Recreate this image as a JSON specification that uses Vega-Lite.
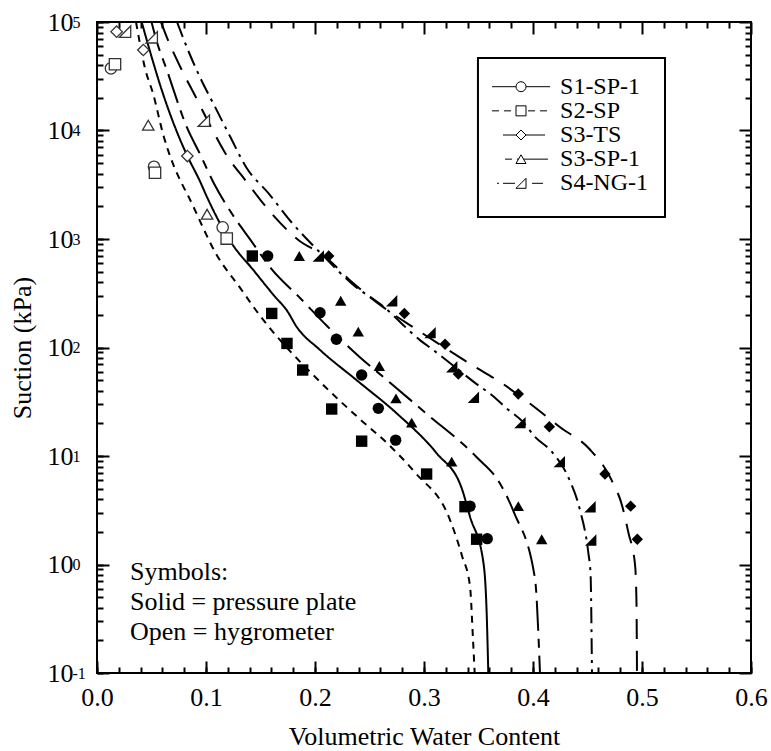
{
  "$schema": "https://vega.github.io/schema/vega-lite/v6.json",
  "width": 654,
  "height": 651,
  "autosize": {"type": "none"},
  "padding": {"left": 97, "top": 22, "right": 20, "bottom": 78},
  "background": "white",
  "datasets": {
    "legendrows": [
      {"series": "S1-SP-1"}, {"series": "S2-SP"}, {"series": "S3-TS"}, {"series": "S3-SP-1"}, {"series": "S4-NG-1"}
    ],
    "curves": [
      {"series": "S1-SP-1", "wc": 0.041, "suction": 100000},
      {"series": "S1-SP-1", "wc": 0.0486, "suction": 53700},
      {"series": "S1-SP-1", "wc": 0.0608, "suction": 21400},
      {"series": "S1-SP-1", "wc": 0.0731, "suction": 9830},
      {"series": "S1-SP-1", "wc": 0.0823, "suction": 5990},
      {"series": "S1-SP-1", "wc": 0.0945, "suction": 3400},
      {"series": "S1-SP-1", "wc": 0.1006, "suction": 2475},
      {"series": "S1-SP-1", "wc": 0.1236, "suction": 912},
      {"series": "S1-SP-1", "wc": 0.1434, "suction": 518},
      {"series": "S1-SP-1", "wc": 0.1633, "suction": 294},
      {"series": "S1-SP-1", "wc": 0.174, "suction": 221},
      {"series": "S1-SP-1", "wc": 0.1832, "suction": 155},
      {"series": "S1-SP-1", "wc": 0.2046, "suction": 95},
      {"series": "S1-SP-1", "wc": 0.2382, "suction": 50},
      {"series": "S1-SP-1", "wc": 0.275, "suction": 24.7},
      {"series": "S1-SP-1", "wc": 0.3116, "suction": 10.6},
      {"series": "S1-SP-1", "wc": 0.3346, "suction": 5.04},
      {"series": "S1-SP-1", "wc": 0.3422, "suction": 2.76},
      {"series": "S1-SP-1", "wc": 0.3544, "suction": 1.06},
      {"series": "S1-SP-1", "wc": 0.3575, "suction": 0.355},
      {"series": "S1-SP-1", "wc": 0.359, "suction": 0.1},
      {"series": "S2-SP", "wc": 0.0358, "suction": 100000},
      {"series": "S2-SP", "wc": 0.044, "suction": 37700},
      {"series": "S2-SP", "wc": 0.0517, "suction": 21400},
      {"series": "S2-SP", "wc": 0.0608, "suction": 9140},
      {"series": "S2-SP", "wc": 0.07, "suction": 4840},
      {"series": "S2-SP", "wc": 0.0777, "suction": 3260},
      {"series": "S2-SP", "wc": 0.0838, "suction": 2475},
      {"series": "S2-SP", "wc": 0.1098, "suction": 713},
      {"series": "S2-SP", "wc": 0.1327, "suction": 339},
      {"series": "S2-SP", "wc": 0.1434, "suction": 238},
      {"series": "S2-SP", "wc": 0.2092, "suction": 43.5},
      {"series": "S2-SP", "wc": 0.2405, "suction": 22.2},
      {"series": "S2-SP", "wc": 0.268, "suction": 12.6},
      {"series": "S2-SP", "wc": 0.2917, "suction": 7.05},
      {"series": "S2-SP", "wc": 0.3239, "suction": 2.57},
      {"series": "S2-SP", "wc": 0.3349, "suction": 1.2},
      {"series": "S2-SP", "wc": 0.3422, "suction": 0.63},
      {"series": "S2-SP", "wc": 0.345, "suction": 0.2},
      {"series": "S2-SP", "wc": 0.3465, "suction": 0.1},
      {"series": "S3-SP-1", "wc": 0.05, "suction": 100000},
      {"series": "S3-SP-1", "wc": 0.0547, "suction": 66800},
      {"series": "S3-SP-1", "wc": 0.0639, "suction": 36500},
      {"series": "S3-SP-1", "wc": 0.0823, "suction": 10800},
      {"series": "S3-SP-1", "wc": 0.0945, "suction": 6070},
      {"series": "S3-SP-1", "wc": 0.1073, "suction": 3250},
      {"series": "S3-SP-1", "wc": 0.1225, "suction": 1790},
      {"series": "S3-SP-1", "wc": 0.1408, "suction": 980},
      {"series": "S3-SP-1", "wc": 0.16, "suction": 530},
      {"series": "S3-SP-1", "wc": 0.1867, "suction": 283},
      {"series": "S3-SP-1", "wc": 0.2115, "suction": 156},
      {"series": "S3-SP-1", "wc": 0.2404, "suction": 82.6},
      {"series": "S3-SP-1", "wc": 0.2665, "suction": 49.7},
      {"series": "S3-SP-1", "wc": 0.3009, "suction": 25.2},
      {"series": "S3-SP-1", "wc": 0.3477, "suction": 9.9},
      {"series": "S3-SP-1", "wc": 0.3697, "suction": 5.58},
      {"series": "S3-SP-1", "wc": 0.3826, "suction": 3.01},
      {"series": "S3-SP-1", "wc": 0.4018, "suction": 0.743},
      {"series": "S3-SP-1", "wc": 0.4064, "suction": 0.1},
      {"series": "S3-TS", "wc": 0.0587, "suction": 100000},
      {"series": "S3-TS", "wc": 0.064, "suction": 72700},
      {"series": "S3-TS", "wc": 0.0761, "suction": 39100},
      {"series": "S3-TS", "wc": 0.0899, "suction": 21000},
      {"series": "S3-TS", "wc": 0.1043, "suction": 10900},
      {"series": "S3-TS", "wc": 0.118, "suction": 6110},
      {"series": "S3-TS", "wc": 0.1369, "suction": 3400},
      {"series": "S3-TS", "wc": 0.1587, "suction": 1790},
      {"series": "S3-TS", "wc": 0.1847, "suction": 980},
      {"series": "S3-TS", "wc": 0.2073, "suction": 710},
      {"series": "S3-TS", "wc": 0.2352, "suction": 391},
      {"series": "S3-TS", "wc": 0.2619, "suction": 238},
      {"series": "S3-TS", "wc": 0.2917, "suction": 150},
      {"series": "S3-TS", "wc": 0.3453, "suction": 67.8},
      {"series": "S3-TS", "wc": 0.3713, "suction": 47},
      {"series": "S3-TS", "wc": 0.3977, "suction": 30.1},
      {"series": "S3-TS", "wc": 0.4252, "suction": 18.3},
      {"series": "S3-TS", "wc": 0.4518, "suction": 11.6},
      {"series": "S3-TS", "wc": 0.472, "suction": 6.02},
      {"series": "S3-TS", "wc": 0.4817, "suction": 3.5},
      {"series": "S3-TS", "wc": 0.4876, "suction": 1.95},
      {"series": "S3-TS", "wc": 0.4936, "suction": 1.0},
      {"series": "S3-TS", "wc": 0.4949, "suction": 0.47},
      {"series": "S3-TS", "wc": 0.4954, "suction": 0.1},
      {"series": "S4-NG-1", "wc": 0.0734, "suction": 100000},
      {"series": "S4-NG-1", "wc": 0.0846, "suction": 51800},
      {"series": "S4-NG-1", "wc": 0.0952, "suction": 29900},
      {"series": "S4-NG-1", "wc": 0.1083, "suction": 16500},
      {"series": "S4-NG-1", "wc": 0.122, "suction": 8850},
      {"series": "S4-NG-1", "wc": 0.1373, "suction": 4510},
      {"series": "S4-NG-1", "wc": 0.1572, "suction": 2650},
      {"series": "S4-NG-1", "wc": 0.1786, "suction": 1420},
      {"series": "S4-NG-1", "wc": 0.2061, "suction": 725},
      {"series": "S4-NG-1", "wc": 0.2344, "suction": 383},
      {"series": "S4-NG-1", "wc": 0.2619, "suction": 242},
      {"series": "S4-NG-1", "wc": 0.2963, "suction": 117},
      {"series": "S4-NG-1", "wc": 0.3083, "suction": 95},
      {"series": "S4-NG-1", "wc": 0.3223, "suction": 74},
      {"series": "S4-NG-1", "wc": 0.3483, "suction": 46},
      {"series": "S4-NG-1", "wc": 0.3621, "suction": 36.5},
      {"series": "S4-NG-1", "wc": 0.3758, "suction": 27.5},
      {"series": "S4-NG-1", "wc": 0.3904, "suction": 20.8},
      {"series": "S4-NG-1", "wc": 0.4018, "suction": 15},
      {"series": "S4-NG-1", "wc": 0.4174, "suction": 10.9},
      {"series": "S4-NG-1", "wc": 0.4339, "suction": 5.89},
      {"series": "S4-NG-1", "wc": 0.4431, "suction": 3.18},
      {"series": "S4-NG-1", "wc": 0.4508, "suction": 1.27},
      {"series": "S4-NG-1", "wc": 0.4528, "suction": 0.826},
      {"series": "S4-NG-1", "wc": 0.4541, "suction": 0.1}
    ],
    "points": [
      {"series": "S1-SP-1", "method": "Open", "wc": 0.0128, "suction": 37400},
      {"series": "S1-SP-1", "method": "Open", "wc": 0.0523, "suction": 4630},
      {"series": "S1-SP-1", "method": "Open", "wc": 0.1153, "suction": 1280},
      {"series": "S1-SP-1", "method": "Solid", "wc": 0.1566, "suction": 697},
      {"series": "S1-SP-1", "method": "Solid", "wc": 0.2046, "suction": 209},
      {"series": "S1-SP-1", "method": "Solid", "wc": 0.2196, "suction": 119},
      {"series": "S1-SP-1", "method": "Solid", "wc": 0.2428, "suction": 55.8},
      {"series": "S1-SP-1", "method": "Solid", "wc": 0.2581, "suction": 27.5},
      {"series": "S1-SP-1", "method": "Solid", "wc": 0.274, "suction": 14},
      {"series": "S1-SP-1", "method": "Solid", "wc": 0.3422, "suction": 3.45},
      {"series": "S1-SP-1", "method": "Solid", "wc": 0.358, "suction": 1.73},
      {"series": "S2-SP", "method": "Open", "wc": 0.0165, "suction": 40800},
      {"series": "S2-SP", "method": "Open", "wc": 0.0532, "suction": 4080},
      {"series": "S2-SP", "method": "Open", "wc": 0.119, "suction": 1010},
      {"series": "S2-SP", "method": "Solid", "wc": 0.1425, "suction": 697},
      {"series": "S2-SP", "method": "Solid", "wc": 0.1603, "suction": 206},
      {"series": "S2-SP", "method": "Solid", "wc": 0.1743, "suction": 109},
      {"series": "S2-SP", "method": "Solid", "wc": 0.1887, "suction": 62},
      {"series": "S2-SP", "method": "Solid", "wc": 0.2153, "suction": 27.1},
      {"series": "S2-SP", "method": "Solid", "wc": 0.2428, "suction": 13.7},
      {"series": "S2-SP", "method": "Solid", "wc": 0.3024, "suction": 6.82},
      {"series": "S2-SP", "method": "Solid", "wc": 0.3376, "suction": 3.41},
      {"series": "S2-SP", "method": "Solid", "wc": 0.3483, "suction": 1.71},
      {"series": "S3-TS", "method": "Open", "wc": 0.018, "suction": 81500},
      {"series": "S3-TS", "method": "Open", "wc": 0.0425, "suction": 55200},
      {"series": "S3-TS", "method": "Open", "wc": 0.0829, "suction": 5820},
      {"series": "S3-TS", "method": "Solid", "wc": 0.2126, "suction": 697},
      {"series": "S3-TS", "method": "Solid", "wc": 0.282, "suction": 206},
      {"series": "S3-TS", "method": "Solid", "wc": 0.3193, "suction": 107},
      {"series": "S3-TS", "method": "Solid", "wc": 0.3315, "suction": 57},
      {"series": "S3-TS", "method": "Solid", "wc": 0.3865, "suction": 37.3},
      {"series": "S3-TS", "method": "Solid", "wc": 0.415, "suction": 18.6},
      {"series": "S3-TS", "method": "Solid", "wc": 0.466, "suction": 6.82},
      {"series": "S3-TS", "method": "Solid", "wc": 0.4896, "suction": 3.45},
      {"series": "S3-TS", "method": "Solid", "wc": 0.4957, "suction": 1.71},
      {"series": "S3-SP-1", "method": "Open", "wc": 0.047, "suction": 11200},
      {"series": "S3-SP-1", "method": "Open", "wc": 0.101, "suction": 1690},
      {"series": "S3-SP-1", "method": "Solid", "wc": 0.1856, "suction": 697},
      {"series": "S3-SP-1", "method": "Solid", "wc": 0.2236, "suction": 270},
      {"series": "S3-SP-1", "method": "Solid", "wc": 0.2397, "suction": 140},
      {"series": "S3-SP-1", "method": "Solid", "wc": 0.259, "suction": 67.5},
      {"series": "S3-SP-1", "method": "Solid", "wc": 0.2743, "suction": 34},
      {"series": "S3-SP-1", "method": "Solid", "wc": 0.2887, "suction": 20.3},
      {"series": "S3-SP-1", "method": "Solid", "wc": 0.3254, "suction": 8.87},
      {"series": "S3-SP-1", "method": "Solid", "wc": 0.3865, "suction": 3.45},
      {"series": "S3-SP-1", "method": "Solid", "wc": 0.408, "suction": 1.71},
      {"series": "S4-NG-1", "method": "Open", "wc": 0.0257, "suction": 81500},
      {"series": "S4-NG-1", "method": "Open", "wc": 0.0502, "suction": 72300},
      {"series": "S4-NG-1", "method": "Open", "wc": 0.098, "suction": 12300},
      {"series": "S4-NG-1", "method": "Solid", "wc": 0.203, "suction": 697},
      {"series": "S4-NG-1", "method": "Solid", "wc": 0.2703, "suction": 270},
      {"series": "S4-NG-1", "method": "Solid", "wc": 0.3055, "suction": 137},
      {"series": "S4-NG-1", "method": "Solid", "wc": 0.3254, "suction": 66.5},
      {"series": "S4-NG-1", "method": "Solid", "wc": 0.3453, "suction": 34.8},
      {"series": "S4-NG-1", "method": "Solid", "wc": 0.388, "suction": 20.3},
      {"series": "S4-NG-1", "method": "Solid", "wc": 0.4241, "suction": 8.87},
      {"series": "S4-NG-1", "method": "Solid", "wc": 0.4523, "suction": 3.41},
      {"series": "S4-NG-1", "method": "Solid", "wc": 0.4529, "suction": 1.68}
    ]
  },
  "layer": [
    {
      "data": {"name": "curves"},
      "mark": {"type": "line", "color": "black", "strokeWidth": 2, "interpolate": "monotone", "clip": true},
      "encoding": {
        "x": {
          "field": "wc", "type": "quantitative",
          "scale": {"domain": [0, 0.6], "nice": false, "zero": false},
          "axis": {
            "orient": "bottom", "values": [0, 0.1, 0.2, 0.3, 0.4, 0.5, 0.6],
            "labelExpr": "format(datum.value, '.1f')",
            "labelFont": "Liberation Serif", "labelFontSize": 26, "labelColor": "black",
            "titleFont": "Liberation Serif", "titleFontSize": 26, "titleFontWeight": "normal", "titleColor": "black",
            "tickSize": -12, "tickWidth": 2, "tickColor": "black", "domain": false, "grid": false,
            "labelPadding": 44, "labelBaseline": "alphabetic", "labelFlush": false, "labelOverlap": false,
            "title": "Volumetric Water Content", "titleY": 71, "titleBaseline": "alphabetic"
          }
        },
        "y": {
          "field": "suction", "type": "quantitative",
          "scale": {"type": "log", "domain": [0.1, 100000], "nice": false},
          "axis": {
            "orient": "left", "values": [0.1, 1, 10, 100, 1000, 10000, 100000],
            "labelExpr": "'10'", "labelAlign": "right", "labelBaseline": "middle",
            "labelFont": "Liberation Serif", "labelFontSize": 26, "labelColor": "black",
            "titleFont": "Liberation Serif", "titleFontSize": 26, "titleFontWeight": "normal", "titleColor": "black",
            "tickSize": -12, "tickWidth": 2, "tickColor": "black", "domain": false, "grid": false,
            "labelPadding": 36, "labelFlush": false, "labelOverlap": false,
            "title": "Suction (kPa)", "titleX": -67, "titleY": 325.5, "titleAngle": 270,
            "titleBaseline": "alphabetic", "titleAlign": "center"
          }
        },
        "strokeDash": {
          "field": "series", "type": "nominal",
          "scale": {
            "domain": ["S1-SP-1", "S2-SP", "S3-TS", "S3-SP-1", "S4-NG-1"],
            "range": [[1, 0], [7, 6], [20, 12], [30, 8, 9, 8], [16, 6, 3, 6]]
          },
          "legend": null
        },
        "order": {"field": "suction", "type": "quantitative", "sort": "descending"}
      }
    },
    {
      "data": {"name": "points"},
      "transform": [{"filter": "datum.method === 'Open'"}],
      "mark": {"type": "point", "filled": true, "fill": "white", "stroke": "#333333", "strokeWidth": 1.3, "size": 130, "opacity": 1},
      "encoding": {
        "x": {
          "field": "wc", "type": "quantitative",
          "scale": {"domain": [0, 0.6], "nice": false, "zero": false},
          "axis": {
            "orient": "top", "labels": false, "title": null, "domain": false, "grid": false,
            "tickWidth": 2, "tickColor": "black",
            "values": [0, 0.02, 0.04, 0.06, 0.08, 0.1, 0.12, 0.14, 0.16, 0.18, 0.2, 0.22, 0.24, 0.26, 0.28, 0.3, 0.32, 0.34, 0.36, 0.38, 0.4, 0.42, 0.44, 0.46, 0.48, 0.5, 0.52, 0.54, 0.56, 0.58, 0.6],
            "tickSize": {"condition": {"test": "abs(datum.value*10 - round(datum.value*10)) < 0.001", "value": -12}, "value": -6}
          }
        },
        "y": {
          "field": "suction", "type": "quantitative",
          "scale": {"type": "log", "domain": [0.1, 100000], "nice": false},
          "axis": {
            "orient": "right", "labels": false, "title": null, "domain": false, "grid": false,
            "tickWidth": 2, "tickColor": "black",
            "values": [0.1, 0.2, 0.3, 0.4, 0.5, 0.6, 0.7, 0.8, 0.9, 1, 2, 3, 4, 5, 6, 7, 8, 9, 10, 20, 30, 40, 50, 60, 70, 80, 90, 100, 200, 300, 400, 500, 600, 700, 800, 900, 1000, 2000, 3000, 4000, 5000, 6000, 7000, 8000, 9000, 10000, 20000, 30000, 40000, 50000, 60000, 70000, 80000, 90000, 100000],
            "tickSize": {"condition": {"test": "abs(log(datum.value)/LN10 - round(log(datum.value)/LN10)) < 0.001", "value": -12}, "value": -6}
          }
        },
        "shape": {
          "field": "series", "type": "nominal",
          "scale": {
            "domain": ["S1-SP-1", "S2-SP", "S3-TS", "S3-SP-1", "S4-NG-1"],
            "range": ["circle", "square", "diamond", "triangle-up", "M1,-1L1,1L-1,1Z"]
          },
          "legend": null
        }
      }
    },
    {
      "data": {"name": "points"},
      "transform": [{"filter": "datum.method === 'Solid'"}],
      "mark": {"type": "point", "filled": true, "color": "black", "size": 130, "opacity": 1},
      "encoding": {
        "x": {
          "field": "wc", "type": "quantitative",
          "scale": {"domain": [0, 0.6], "nice": false, "zero": false},
          "axis": {
            "orient": "bottom", "labels": false, "title": null, "domain": false, "grid": false,
            "tickSize": -6, "tickWidth": 2, "tickColor": "black",
            "values": [0, 0.02, 0.04, 0.06, 0.08, 0.1, 0.12, 0.14, 0.16, 0.18, 0.2, 0.22, 0.24, 0.26, 0.28, 0.3, 0.32, 0.34, 0.36, 0.38, 0.4, 0.42, 0.44, 0.46, 0.48, 0.5, 0.52, 0.54, 0.56, 0.58, 0.6]
          }
        },
        "y": {
          "field": "suction", "type": "quantitative",
          "scale": {"type": "log", "domain": [0.1, 100000], "nice": false},
          "axis": {
            "orient": "left", "title": null, "domain": false, "grid": false,
            "tickSize": -6, "tickWidth": 2, "tickColor": "black",
            "values": [0.1, 0.2, 0.3, 0.4, 0.5, 0.6, 0.7, 0.8, 0.9, 1, 2, 3, 4, 5, 6, 7, 8, 9, 10, 20, 30, 40, 50, 60, 70, 80, 90, 100, 200, 300, 400, 500, 600, 700, 800, 900, 1000, 2000, 3000, 4000, 5000, 6000, 7000, 8000, 9000, 10000, 20000, 30000, 40000, 50000, 60000, 70000, 80000, 90000, 100000],
            "labelExpr": "abs(log(datum.value)/LN10 - round(log(datum.value)/LN10)) < 0.001 ? '' + round(log(datum.value)/LN10) : ''",
            "labelFont": "Liberation Serif", "labelFontSize": 16, "labelColor": "black",
            "labelAlign": "left", "labelBaseline": "middle", "labelPadding": 31, "labelDy": -7,
            "labelFlush": false, "labelOverlap": false
          }
        },
        "shape": {
          "field": "series", "type": "nominal",
          "scale": {
            "domain": ["S1-SP-1", "S2-SP", "S3-TS", "S3-SP-1", "S4-NG-1"],
            "range": ["circle", "square", "diamond", "triangle-up", "M1,-1L1,1L-1,1Z"]
          },
          "legend": null
        }
      }
    },
    {
      "data": {"values": [{}]},
      "mark": {"type": "text", "font": "Liberation Serif", "fontSize": 26, "align": "left", "baseline": "alphabetic", "lineHeight": 30, "color": "black"},
      "encoding": {
        "x": {"datum": 0.0303, "type": "quantitative", "scale": {"domain": [0, 0.6], "nice": false, "zero": false}, "axis": null},
        "y": {"datum": 0.727, "type": "quantitative", "scale": {"type": "log", "domain": [0.1, 100000], "nice": false}, "axis": null},
        "text": {"value": ["Symbols:", "Solid = pressure plate", "Open = hygrometer"]}
      }
    },
    {
      "data": {"values": [{}]},
      "mark": {"type": "rect", "fill": "white", "stroke": "black", "strokeWidth": 2},
      "encoding": {
        "x": {"datum": 0.3495, "type": "quantitative", "scale": {"domain": [0, 0.6], "nice": false, "zero": false}, "axis": null},
        "x2": {"datum": 0.5211},
        "y": {"datum": 46600, "type": "quantitative", "scale": {"type": "log", "domain": [0.1, 100000], "nice": false}, "axis": null},
        "y2": {"datum": 1596}
      }
    },
    {
      "data": {"name": "legendrows"},
      "mark": {"type": "rule", "color": "black", "strokeWidth": 1},
      "encoding": {
        "x": {"datum": 0.3624, "type": "quantitative", "scale": {"domain": [0, 0.6], "nice": false, "zero": false}, "axis": null},
        "x2": {"datum": 0.4156},
        "y": {"field": "series", "type": "nominal", "scale": {"type": "point", "domain": ["S1-SP-1", "S2-SP", "S3-TS", "S3-SP-1", "S4-NG-1"], "range": [64.7, 161.3], "padding": 0}, "axis": null},
        "strokeDash": {
          "field": "series", "type": "nominal",
          "scale": {
            "domain": ["S1-SP-1", "S2-SP", "S3-TS", "S3-SP-1", "S4-NG-1"],
            "range": [[1, 0], [7, 5], [0, 11, 42, 100], [0, 13, 7, 5, 31, 100], [0, 5, 2, 4, 12, 17, 11, 100]]
          },
          "legend": null
        }
      }
    },
    {
      "data": {"name": "legendrows"},
      "mark": {"type": "point", "filled": true, "fill": "white", "stroke": "black", "strokeWidth": 1, "size": 100, "opacity": 1},
      "encoding": {
        "x": {"datum": 0.389, "type": "quantitative", "scale": {"domain": [0, 0.6], "nice": false, "zero": false}, "axis": null},
        "y": {"field": "series", "type": "nominal", "scale": {"type": "point", "domain": ["S1-SP-1", "S2-SP", "S3-TS", "S3-SP-1", "S4-NG-1"], "range": [64.7, 161.3], "padding": 0}, "axis": null},
        "shape": {
          "field": "series", "type": "nominal",
          "scale": {
            "domain": ["S1-SP-1", "S2-SP", "S3-TS", "S3-SP-1", "S4-NG-1"],
            "range": ["circle", "square", "diamond", "triangle-up", "M1,-1L1,1L-1,1Z"]
          },
          "legend": null
        }
      }
    },
    {
      "data": {"name": "legendrows"},
      "mark": {"type": "text", "font": "Liberation Serif", "fontSize": 24, "align": "left", "baseline": "middle", "color": "black"},
      "encoding": {
        "x": {"datum": 0.4248, "type": "quantitative", "scale": {"domain": [0, 0.6], "nice": false, "zero": false}, "axis": null},
        "y": {"field": "series", "type": "nominal", "scale": {"type": "point", "domain": ["S1-SP-1", "S2-SP", "S3-TS", "S3-SP-1", "S4-NG-1"], "range": [64.7, 161.3], "padding": 0}, "axis": null},
        "text": {"field": "series", "type": "nominal"}
      }
    }
  ],
  "resolve": {
    "axis": {"x": "independent", "y": "independent"},
    "scale": {"y": "independent", "strokeDash": "independent"}
  },
  "config": {
    "view": {"stroke": "black", "strokeWidth": 2},
    "axis": {"domain": false, "grid": false}
  }
}
